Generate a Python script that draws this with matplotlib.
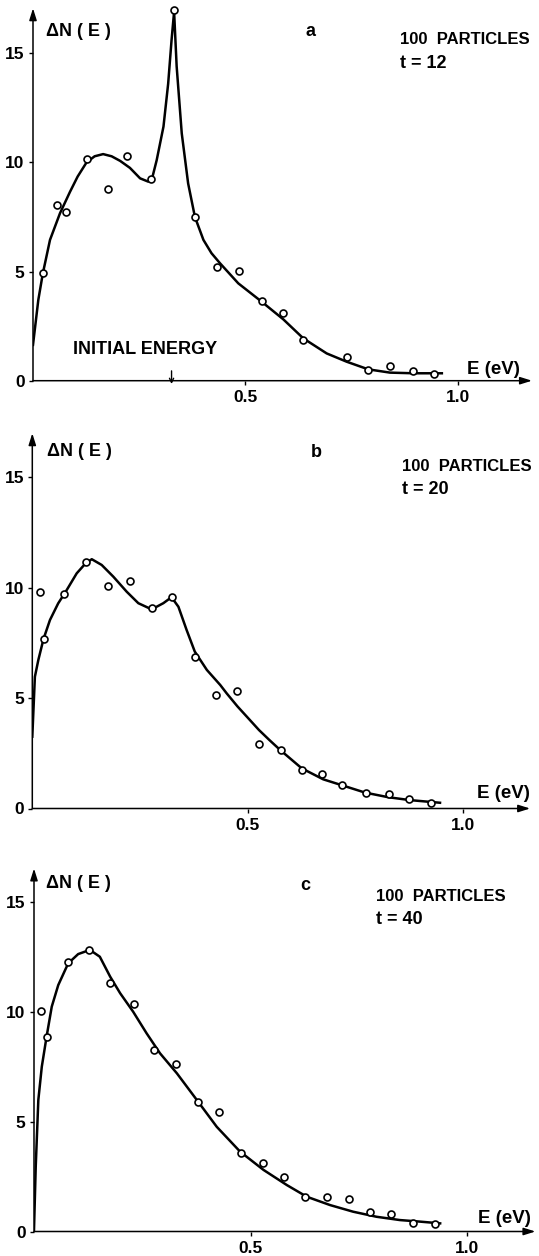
import numpy as np
import matplotlib
matplotlib.use("Agg")
import matplotlib.pyplot as plt

plt.rcParams["font.family"] = ["Liberation Sans", "DejaVu Sans"]
plt.rcParams["font.weight"] = "bold"

# panel a, t = 12 : measured points and the drawn smooth curve
a_pts_e = [0.023, 0.056, 0.078, 0.126, 0.177, 0.222, 0.278, 0.332, 0.381, 0.434,
           0.484, 0.538, 0.588, 0.636, 0.738, 0.789, 0.840, 0.893, 0.944]
a_pts_n = [4.95, 8.05, 7.72, 10.17, 8.77, 10.28, 9.24, 16.98, 7.50, 5.22,
           5.04, 3.64, 3.09, 1.86, 1.07, 0.49, 0.69, 0.44, 0.31]
a_fit_e = [0, 0.0125, 0.023, 0.040, 0.0635, 0.087, 0.105, 0.126, 0.145, 0.165,
           0.185, 0.205, 0.228, 0.252, 0.271, 0.280, 0.291, 0.307, 0.318, 0.326,
           0.332, 0.338, 0.350, 0.365, 0.381, 0.401, 0.420, 0.440, 0.483, 0.538,
           0.589, 0.636, 0.691, 0.738, 0.789, 0.840, 0.895, 0.962]
a_fit_n = [1.64, 3.70, 4.90, 6.45, 7.67, 8.65, 9.35, 10.00, 10.28, 10.38,
           10.28, 10.07, 9.75, 9.27, 9.12, 9.25, 10.10, 11.64, 13.60, 15.60,
           16.90, 14.40, 11.33, 9.04, 7.50, 6.45, 5.84, 5.38, 4.46, 3.62,
           2.81, 1.94, 1.25, 0.87, 0.52, 0.37, 0.34, 0.34]
a_initial_energy = 0.326

# panel b, t = 20
b_pts_e = [0.018, 0.026, 0.074, 0.124, 0.176, 0.227, 0.277, 0.323, 0.377, 0.426,
           0.476, 0.526, 0.576, 0.626, 0.673, 0.719, 0.774, 0.827, 0.875, 0.925]
b_pts_n = [9.81, 7.67, 9.71, 11.17, 10.07, 10.30, 9.06, 9.56, 6.87, 5.14,
           5.33, 2.90, 2.63, 1.76, 1.55, 1.07, 0.69, 0.66, 0.43, 0.23]
b_fit_e = [0, 0.006, 0.014, 0.026, 0.041, 0.060, 0.080, 0.103, 0.124, 0.138,
           0.161, 0.188, 0.219, 0.246, 0.277, 0.304, 0.323, 0.339, 0.358, 0.377,
           0.405, 0.436, 0.451, 0.476, 0.505, 0.526, 0.550, 0.575, 0.625, 0.675,
           0.722, 0.772, 0.826, 0.876, 0.946]
b_fit_n = [3.25, 5.96, 6.72, 7.67, 8.53, 9.28, 9.89, 10.64, 11.10, 11.28,
           11.02, 10.49, 9.81, 9.29, 9.01, 9.29, 9.56, 9.13, 8.08, 7.10,
           6.27, 5.59, 5.21, 4.62, 4.00, 3.55, 3.10, 2.65, 1.82, 1.32,
           1.03, 0.72, 0.51, 0.38, 0.26]

# panel c, t = 40
c_pts_e = [0.016, 0.029, 0.079, 0.127, 0.175, 0.230, 0.278, 0.327, 0.378, 0.427,
           0.477, 0.528, 0.577, 0.626, 0.677, 0.727, 0.776, 0.825, 0.876, 0.926]
c_pts_n = [10.04, 8.83, 12.26, 12.80, 11.30, 10.34, 8.25, 7.61, 5.89, 5.42,
           3.56, 3.13, 2.49, 1.58, 1.58, 1.46, 0.90, 0.80, 0.37, 0.33]
c_fit_e = [0, 0.004, 0.010, 0.018, 0.029, 0.041, 0.056, 0.079, 0.102, 0.129,
           0.152, 0.176, 0.199, 0.229, 0.260, 0.291, 0.330, 0.376, 0.422, 0.476,
           0.530, 0.584, 0.630, 0.684, 0.737, 0.791, 0.845, 0.891, 0.938]
c_fit_n = [0.07, 2.95, 5.98, 7.49, 8.85, 10.22, 11.20, 12.19, 12.61, 12.80,
           12.49, 11.58, 10.83, 9.99, 9.01, 8.10, 7.19, 5.98, 4.76, 3.63,
           2.80, 2.11, 1.58, 1.20, 0.90, 0.67, 0.52, 0.45, 0.37]

x_ticks = [0.5, 1.0]
x_ticklabels = ["0.5", "1.0"]
y_ticks = [0, 5, 10, 15]
y_ticklabels = ["0", "5", "10", "15"]

W, H = 539, 1256
fig = plt.figure(figsize=(W / 100, H / 100), dpi=100)


def px(x, y):
    return x / W, 1 - y / H


def panel(x0, sx, y0, sy, xmax, ymax, pe, pn, fe, fn, letter, tlabel, txt):
    # txt = pixel anchors: (dN x,y), (letter x,y), (particles x,y), (E x,y)
    left, bottom = px(x0, y0)
    ax = fig.add_axes([left, bottom, xmax * sx / W, ymax * sy / H])
    ax.set_xlim(0, xmax)
    ax.set_ylim(0, ymax)
    for s in ax.spines.values():
        s.set_visible(False)
    arr = dict(arrowstyle="-|>,head_length=0.7,head_width=0.22", lw=1.1,
               color="k", shrinkA=0, shrinkB=0)
    ax.annotate("", xy=(1, 0), xytext=(0, 0), xycoords="axes fraction", arrowprops=arr)
    ax.annotate("", xy=(0, 1), xytext=(0, 0), xycoords="axes fraction", arrowprops=arr)
    ax.plot(fe, fn, color="k", lw=1.8, solid_joinstyle="round", zorder=2)
    ax.plot(pe, pn, "o", ms=5, mfc="white", mec="k", mew=1.2, zorder=3, clip_on=False)
    ax.set_xticks(x_ticks, x_ticklabels)
    ax.set_yticks(y_ticks, y_ticklabels)
    ax.tick_params(direction="out", length=3, width=1, labelsize=12.5, pad=3)
    ax.tick_params(axis="x", pad=4)
    ax.set_facecolor("none")

    (dx, dy), (lx, ly), (tx, ty), (ex, ey) = txt
    fig.text(*px(dx, dy), "ΔN ( E )", fontsize=13, va="center", ha="left")
    fig.text(*px(lx, ly), letter, fontsize=13, va="center", ha="center")
    fig.text(*px(tx, ty), "100  PARTICLES", fontsize=12, va="center", ha="left")
    fig.text(*px(tx, ty + 23), tlabel, fontsize=13, va="center", ha="left")
    fig.text(*px(ex, ey), "E (eV)", fontsize=13.5, va="center", ha="left")
    return ax


ax_a = panel(33, 425, 380.7, 21.83, 1.174, 17.06, a_pts_e, a_pts_n, a_fit_e, a_fit_n,
             "a", "t = 12", [(46, 31.7), (310, 31.7), (400, 40), (467, 370)])
ax_a.annotate("", xy=(a_initial_energy, -0.15), xytext=(a_initial_energy, 0.45),
              arrowprops=dict(arrowstyle="->,head_length=0.3,head_width=0.15", lw=1,
                              color="k", shrinkA=0, shrinkB=0),
              annotation_clip=False)
fig.text(*px(73, 350), "INITIAL ENERGY", fontsize=13, va="center", ha="left")

panel(32.3, 431, 808.5, 22.1, 1.155, 16.98, b_pts_e, b_pts_n, b_fit_e, b_fit_n,
      "b", "t = 20", [(47, 451.7), (316, 453), (401.7, 466.7), (477, 793.3)])

panel(34, 433, 1231.5, 22.0, 1.158, 16.5, c_pts_e, c_pts_n, c_fit_e, c_fit_n,
      "c", "t = 40", [(46, 883.3), (305, 885), (376, 896.7), (478.5, 1218.3)])

fig.savefig("out.png", dpi=100, facecolor="white")
